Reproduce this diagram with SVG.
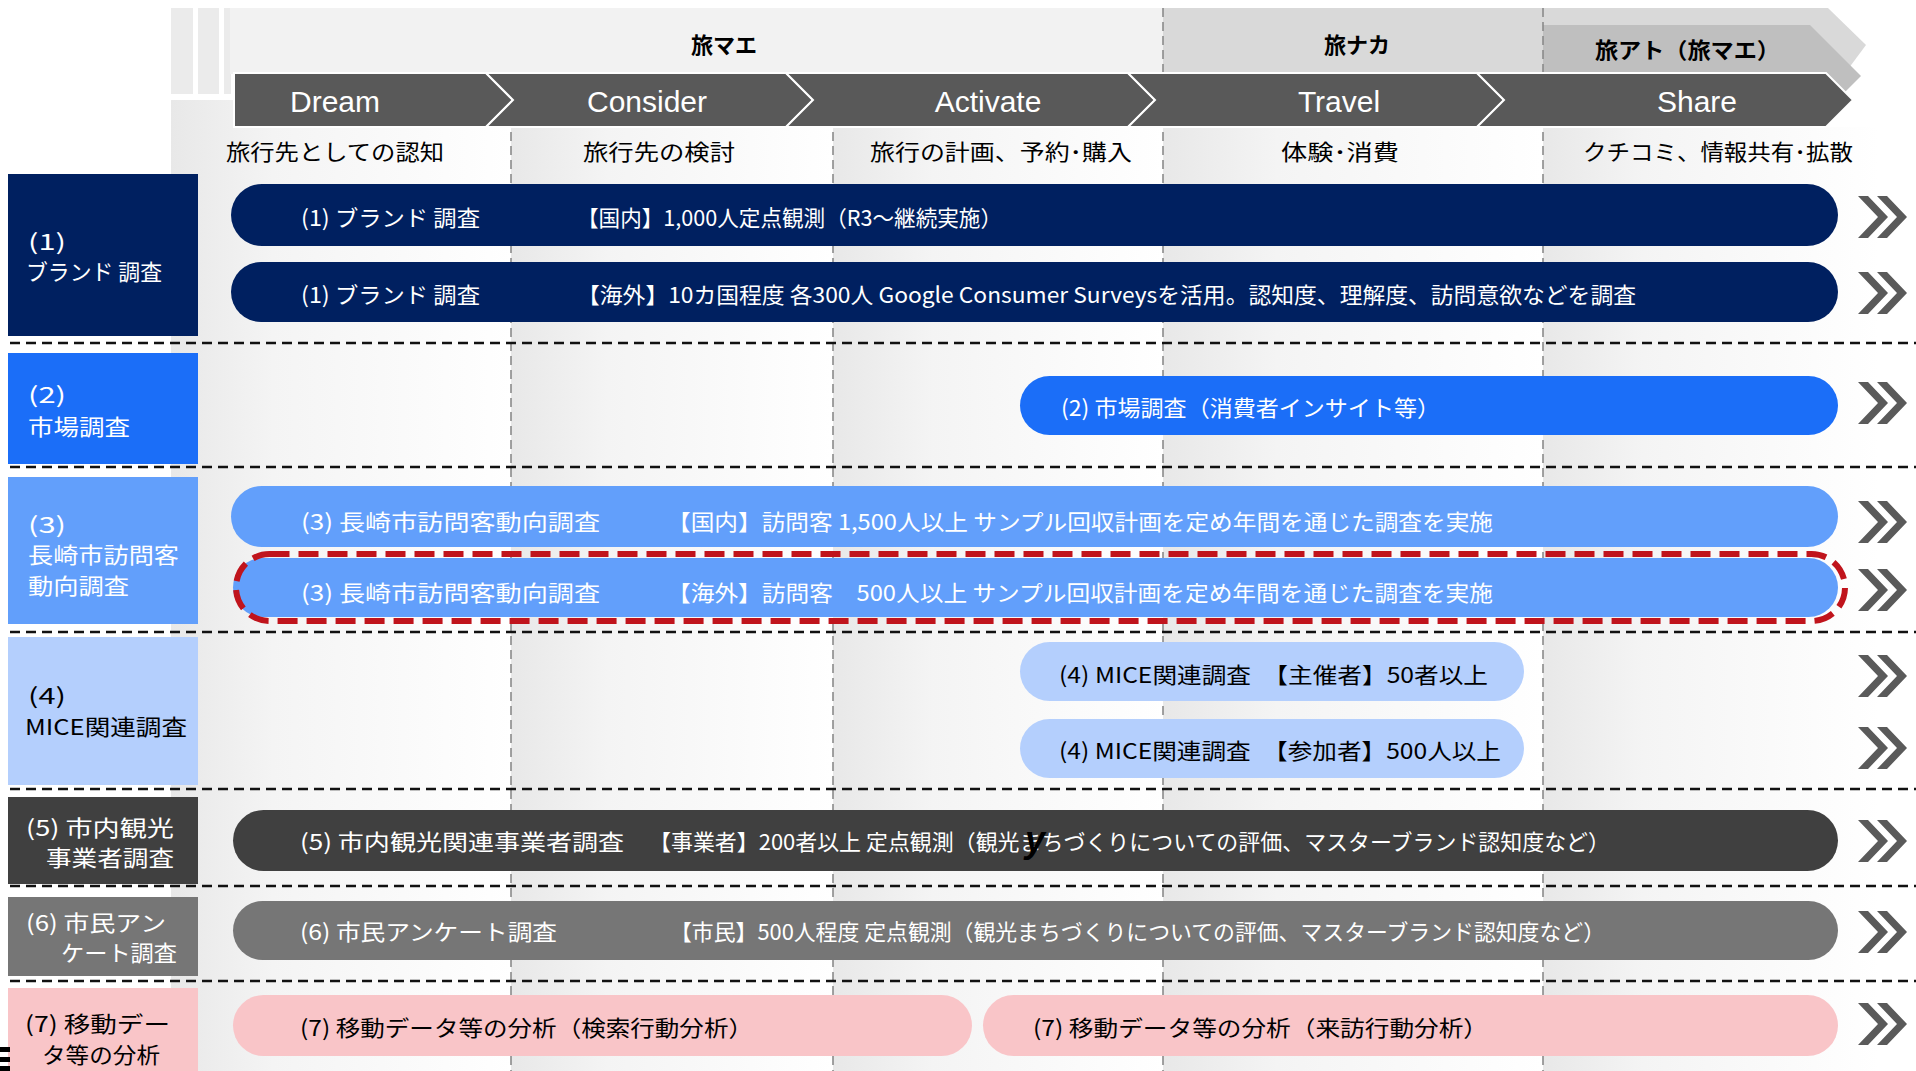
<svg xmlns="http://www.w3.org/2000/svg" width="1916" height="1071" viewBox="0 0 1916 1071">
<defs>
<style>
.jp{font-family:"Noto Sans CJK JP","Noto Sans",sans-serif;font-size:22px}
.hd{font-family:"Noto Sans CJK JP","Noto Sans",sans-serif;font-size:22px;font-weight:700;fill:#000}
.en{font-family:"Liberation Sans",Arial,sans-serif;font-size:30px;fill:#fff}
.w{fill:#fff}
.k{fill:#000}
.vd{stroke:#8a8a8a;stroke-width:1.6;stroke-dasharray:9 5;fill:none}
.hdash{stroke:#111;stroke-width:2.5;stroke-dasharray:10 6;fill:none}
.chev{fill:#595959;stroke:#fff;stroke-width:2}
.navy{fill:#002060}
.blue{fill:#1b6ef8}
.lblue{fill:#629ffb}
.pblue{fill:#b4cffd}
.dgray{fill:#404040}
.mgray{fill:#767676}
.pink{fill:#f9c5c8}
</style>
<linearGradient id="col" x1="0" y1="0" x2="1" y2="0">
<stop offset="0" stop-color="#e8e8e8"/>
<stop offset="0.3" stop-color="#f4f4f4"/>
<stop offset="1" stop-color="#ffffff"/>
</linearGradient>
<g id="dbl">
<polygon points="0,0 10,0 30,21 10,42 0,42 20,21" fill="#5a5a5a"/>
<polygon points="19,0 29,0 49,21 29,42 19,42 39,21" fill="#5a5a5a"/>
</g>
</defs>
<rect x="0" y="0" width="1916" height="1071" fill="#fff"/>

<g id="columns">
<rect x="171" y="100" width="340" height="971" fill="url(#col)"/>
<rect x="511" y="127" width="322" height="944" fill="url(#col)"/>
<rect x="833" y="127" width="330" height="944" fill="url(#col)"/>
<rect x="1163" y="127" width="380" height="944" fill="url(#col)"/>
<rect x="1543" y="127" width="335" height="944" fill="url(#col)"/>
</g>

<g id="header">
<rect x="171" y="8" width="60" height="86" fill="#ebebeb"/>
<rect x="193" y="8" width="5" height="86" fill="#fff"/>
<rect x="219" y="8" width="5" height="86" fill="#fff"/>
<rect x="230" y="8" width="933" height="66" fill="#f2f2f2"/>
<polygon points="1163,8 1828,8 1866,45 1840,80 1163,80" fill="#d9d9d9"/>
<polygon points="1543,25 1810,25 1861,76 1845,92 1543,92" fill="#bfbfbf"/>
<line x1="1163" y1="8" x2="1163" y2="73" class="vd"/>
<line x1="1543" y1="8" x2="1543" y2="73" class="vd"/>
<text class="hd" x="724" y="53" text-anchor="middle">旅マエ</text>
<text class="hd" x="1357" y="53" text-anchor="middle">旅ナカ</text>
<text class="hd" x="1595" y="58" textLength="185" lengthAdjust="spacingAndGlyphs">旅アト（旅マエ）</text>
</g>

<g id="stages">
<polygon class="chev" points="234,73 486,73 513,100 486,127 234,127"/>
<polygon class="chev" points="486,73 786,73 813,100 786,127 486,127 513,100"/>
<polygon class="chev" points="786,73 1128,73 1155,100 1128,127 786,127 813,100"/>
<polygon class="chev" points="1128,73 1477,73 1504,100 1477,127 1128,127 1155,100"/>
<polygon class="chev" points="1477,73 1826,73 1853,100 1826,127 1477,127 1504,100"/>
<text class="en" x="335" y="112" text-anchor="middle">Dream</text>
<text class="en" x="647" y="112" text-anchor="middle">Consider</text>
<text class="en" x="988" y="112" text-anchor="middle">Activate</text>
<text class="en" x="1339" y="112" text-anchor="middle">Travel</text>
<text class="en" x="1697" y="112" text-anchor="middle">Share</text>
<text class="jp k" x="226" y="160" textLength="218" lengthAdjust="spacingAndGlyphs">旅行先としての認知</text>
<text class="jp k" x="583" y="160" textLength="152" lengthAdjust="spacingAndGlyphs">旅行先の検討</text>
<text class="jp k" x="870" y="160" textLength="262" lengthAdjust="spacingAndGlyphs">旅行の計画、予約･購入</text>
<text class="jp k" x="1281" y="160" textLength="118" lengthAdjust="spacingAndGlyphs">体験･消費</text>
<text class="jp k" x="1583" y="160" textLength="270" lengthAdjust="spacingAndGlyphs">クチコミ、情報共有･拡散</text>
</g>

<g id="gridlines">
<line x1="511" y1="132" x2="511" y2="1071" class="vd"/>
<line x1="833" y1="132" x2="833" y2="1071" class="vd"/>
<line x1="1163" y1="132" x2="1163" y2="1071" class="vd"/>
<line x1="1543" y1="132" x2="1543" y2="1071" class="vd"/>
<line x1="10" y1="343" x2="1916" y2="343" class="hdash"/>
<line x1="10" y1="467" x2="1916" y2="467" class="hdash"/>
<line x1="10" y1="632" x2="1916" y2="632" class="hdash"/>
<line x1="10" y1="789" x2="1916" y2="789" class="hdash"/>
<line x1="10" y1="886" x2="1916" y2="886" class="hdash"/>
<line x1="10" y1="981" x2="1916" y2="981" class="hdash"/>
</g>

<g id="cat1">
<rect class="navy" x="8" y="174" width="190" height="162"/>
<text class="jp w" x="28" y="250" textLength="38" lengthAdjust="spacingAndGlyphs">(1)</text>
<text class="jp w" x="26" y="280" textLength="136" lengthAdjust="spacingAndGlyphs">ブランド 調査</text>
</g>
<g id="cat2">
<rect class="blue" x="8" y="353" width="190" height="111"/>
<text class="jp w" x="28" y="403" textLength="38" lengthAdjust="spacingAndGlyphs">(2)</text>
<text class="jp w" x="28" y="435" textLength="102" lengthAdjust="spacingAndGlyphs">市場調査</text>
</g>
<g id="cat3">
<rect class="lblue" x="8" y="477" width="190" height="147"/>
<text class="jp w" x="28" y="533" textLength="38" lengthAdjust="spacingAndGlyphs">(3)</text>
<text class="jp w" x="28" y="563" textLength="151" lengthAdjust="spacingAndGlyphs">長崎市訪問客</text>
<text class="jp w" x="28" y="594" textLength="101" lengthAdjust="spacingAndGlyphs">動向調査</text>
</g>
<g id="cat4">
<rect class="pblue" x="8" y="637" width="190" height="148"/>
<text class="jp k" x="28" y="704" textLength="38" lengthAdjust="spacingAndGlyphs">(4)</text>
<text class="jp k" x="25" y="735" textLength="162" lengthAdjust="spacingAndGlyphs">MICE関連調査</text>
</g>
<g id="cat5">
<rect class="dgray" x="8" y="797" width="190" height="87"/>
<text class="jp w" x="26" y="836" textLength="148" lengthAdjust="spacingAndGlyphs">(5) 市内観光</text>
<text class="jp w" x="46" y="866" textLength="128" lengthAdjust="spacingAndGlyphs">事業者調査</text>
</g>
<g id="cat6">
<rect class="mgray" x="8" y="897" width="190" height="79"/>
<text class="jp w" x="26" y="931" textLength="140" lengthAdjust="spacingAndGlyphs">(6) 市民アン</text>
<text class="jp w" x="61" y="961" textLength="116" lengthAdjust="spacingAndGlyphs">ケート調査</text>
</g>
<g id="cat7">
<rect class="pink" x="8" y="988" width="190" height="83"/>
<text class="jp k" x="25" y="1032" textLength="145" lengthAdjust="spacingAndGlyphs">(7) 移動デー</text>
<text class="jp k" x="42" y="1063" textLength="118" lengthAdjust="spacingAndGlyphs">タ等の分析</text>
</g>

<g id="pill1a">
<rect class="navy" x="231" y="184" width="1607" height="62" rx="31"/>
<text class="jp w" x="301" y="226" textLength="179" lengthAdjust="spacingAndGlyphs">(1) ブランド 調査</text>
<text class="jp w" x="577" y="226" textLength="425" lengthAdjust="spacingAndGlyphs">【国内】1,000人定点観測（R3～継続実施）</text>
</g>
<g id="pill1b">
<rect class="navy" x="231" y="262" width="1607" height="60" rx="30"/>
<text class="jp w" x="301" y="303" textLength="179" lengthAdjust="spacingAndGlyphs">(1) ブランド 調査</text>
<text class="jp w" x="577" y="303" textLength="1059" lengthAdjust="spacingAndGlyphs">【海外】10カ国程度 各300人 Google Consumer Surveysを活用。認知度、理解度、訪問意欲などを調査</text>
</g>
<g id="pill2">
<rect class="blue" x="1020" y="376" width="818" height="59" rx="29.5"/>
<text class="jp w" x="1061" y="416" textLength="379" lengthAdjust="spacingAndGlyphs">(2) 市場調査（消費者インサイト等）</text>
</g>
<g id="pill3a">
<rect class="lblue" x="231" y="486" width="1607" height="61" rx="30.5"/>
<text class="jp w" x="301" y="530" textLength="299" lengthAdjust="spacingAndGlyphs">(3) 長崎市訪問客動向調査</text>
<text class="jp w" x="667" y="530" textLength="826" lengthAdjust="spacingAndGlyphs">【国内】訪問客 1,500人以上 サンプル回収計画を定め年間を通じた調査を実施</text>
</g>
<g id="pill3b">
<rect class="lblue" x="233" y="558" width="1605" height="59" rx="29.5"/>
<text class="jp w" x="301" y="601" textLength="299" lengthAdjust="spacingAndGlyphs">(3) 長崎市訪問客動向調査</text>
<text class="jp w" x="667" y="601" textLength="826" lengthAdjust="spacingAndGlyphs">【海外】訪問客　500人以上 サンプル回収計画を定め年間を通じた調査を実施</text>
<rect x="236" y="554" width="1609" height="67" rx="33.5" fill="none" stroke="#c0141c" stroke-width="6" stroke-dasharray="20 9"/>
</g>
<g id="pill4a">
<rect class="pblue" x="1020" y="642" width="504" height="59" rx="29.5"/>
<text class="jp k" x="1059" y="683" textLength="429" lengthAdjust="spacingAndGlyphs">(4) MICE関連調査　【主催者】50者以上</text>
</g>
<g id="pill4b">
<rect class="pblue" x="1020" y="719" width="504" height="59" rx="29.5"/>
<text class="jp k" x="1059" y="759" textLength="442" lengthAdjust="spacingAndGlyphs">(4) MICE関連調査　【参加者】500人以上</text>
</g>
<g id="pill5">
<rect class="dgray" x="233" y="810" width="1605" height="61" rx="30.5"/>
<text class="jp w" x="300" y="850" textLength="324" lengthAdjust="spacingAndGlyphs">(5) 市内観光関連事業者調査</text>
<text class="jp w" x="649" y="850" textLength="961" lengthAdjust="spacingAndGlyphs">【事業者】200者以上 定点観測（観光まちづくりについての評価、マスターブランド認知度など）</text>
<text x="1025" y="852" font-family="Liberation Sans, sans-serif" font-size="36" font-style="italic" font-weight="700" fill="#000">y</text>
</g>
<g id="pill6">
<rect class="mgray" x="233" y="901" width="1605" height="59" rx="29.5"/>
<text class="jp w" x="300" y="940" textLength="257" lengthAdjust="spacingAndGlyphs">(6) 市民アンケート調査</text>
<text class="jp w" x="670" y="940" textLength="935" lengthAdjust="spacingAndGlyphs">【市民】500人程度 定点観測（観光まちづくりについての評価、マスターブランド認知度など）</text>
</g>
<g id="pill7a">
<rect class="pink" x="233" y="995" width="739" height="61" rx="30.5"/>
<text class="jp k" x="300" y="1036" textLength="453" lengthAdjust="spacingAndGlyphs">(7) 移動データ等の分析（検索行動分析）</text>
</g>
<g id="pill7b">
<rect class="pink" x="983" y="995" width="855" height="61" rx="30.5"/>
<text class="jp k" x="1033" y="1036" textLength="455" lengthAdjust="spacingAndGlyphs">(7) 移動データ等の分析（来訪行動分析）</text>
</g>

<g id="continue-arrows">
<use href="#dbl" x="1858" y="196"/>
<use href="#dbl" x="1858" y="272"/>
<use href="#dbl" x="1858" y="382"/>
<use href="#dbl" x="1858" y="501"/>
<use href="#dbl" x="1858" y="569"/>
<use href="#dbl" x="1858" y="655"/>
<use href="#dbl" x="1858" y="727"/>
<use href="#dbl" x="1858" y="820"/>
<use href="#dbl" x="1858" y="911"/>
<use href="#dbl" x="1858" y="1003"/>
</g>

<g id="edge-marks">
<rect x="0" y="1047" width="10" height="5" fill="#000"/>
<rect x="0" y="1057" width="10" height="5" fill="#000"/>
<rect x="0" y="1066" width="10" height="5" fill="#000"/>
</g>
</svg>
